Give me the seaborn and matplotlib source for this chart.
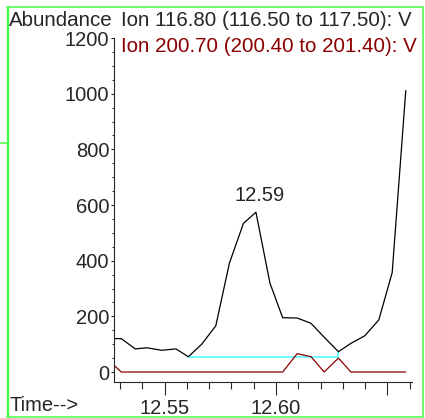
import matplotlib
matplotlib.use('Agg')
import matplotlib.pyplot as plt
from matplotlib.lines import Line2D
from matplotlib.ticker import FixedLocator, MultipleLocator
import numpy as np
import pandas as pd
import seaborn as sns

# scan times (min) and abundances
times = [12.5245, 12.5306, 12.5369, 12.5421, 12.5488, 12.5551, 12.5607, 12.5667,
         12.5730, 12.5791, 12.5854, 12.5910, 12.5973, 12.6030, 12.6095, 12.6157,
         12.6216, 12.6280, 12.6336, 12.6398, 12.6461, 12.6521, 12.6582]
ion117 = [120, 120, 83, 87, 78, 83, 55, 100, 166, 391, 534, 574, 319, 195,
          194, 175, 125, 73, 103, 130, 187, 357, 1011]
ion201 = [45, 0, 0, 0, 0, 0, 0, 0, 0, 0, 0, 0, 0, 0,
          66, 55, 0, 50, 0, 0, 0, 0, 0]

# integration baseline under the peak
base_t = [12.5607, 12.6280, 12.6280]
base_v = [55, 55, 73]

label117 = 'Ion 116.80 (116.50 to 117.50): V'
label201 = 'Ion 200.70 (200.40 to 201.40): V'
xticks_major = [12.55, 12.60, 12.65]
xtick_labels = ['12.55', '12.60', '']

data = pd.DataFrame({'time': times, 'ion117': ion117, 'ion201': ion201})
base = pd.DataFrame({'time': base_t, 'value': base_v})

W, H = 425, 418
sns.set_style('ticks')
plt.rcParams['font.family'] = ['Liberation Sans', 'DejaVu Sans']

fig = plt.figure(figsize=(W / 100, H / 100), dpi=100)
ax = fig.add_axes([114 / W, 36 / H, (412 - 114) / W, (382 - 38) / H])

red = '#8b0000'
sns.lineplot(x='time', y='value', data=base, ax=ax, color='#55ffff', linewidth=1.2,
             sort=False, estimator=None)
sns.lineplot(x='time', y='ion201', data=data, ax=ax, color=red, linewidth=0.9,
             sort=False, estimator=None)
sns.lineplot(x='time', y='ion117', data=data, ax=ax, color='black', linewidth=0.9,
             sort=False, estimator=None)

# peak label
ipk = int(np.argmax(ion117[:15]))
ax.annotate(f'{times[ipk]:.2f}', xy=(times[ipk], ion117[ipk]), xytext=(4, 7),
            textcoords='offset pixels', ha='center', va='bottom', fontsize=14.5)

ax.set_xlim(12.52735, 12.66099)
ax.set_ylim(-35.9, 1200)
ax.set_xlabel('')
ax.set_ylabel('')
sns.despine(ax=ax)
for s in ['left', 'bottom']:
    ax.spines[s].set_linewidth(0.8)

ax.xaxis.set_major_locator(FixedLocator(xticks_major))
ax.set_xticklabels(xtick_labels)
ax.xaxis.set_minor_locator(MultipleLocator(0.01))
ax.yaxis.set_major_locator(MultipleLocator(200))
ax.yaxis.set_minor_locator(MultipleLocator(50))
ax.tick_params(axis='x', which='major', length=9, width=0.8, pad=3, labelsize=14.5)
ax.tick_params(axis='x', which='minor', length=5, width=0.8)
ax.tick_params(axis='y', which='major', length=2.5, width=0.8, pad=1, labelsize=14.5)
ax.tick_params(axis='y', which='minor', length=1.2, width=0.8)


def fx(px):
    return px / W


def fy(py):
    return 1 - py / H


# header texts
fig.text(fx(9), fy(26.5), 'Abundance', fontsize=14.8, va='baseline')
fig.text(fx(121), fy(26.5), label117, fontsize=14.8, va='baseline')
fig.text(fx(121), fy(52), label201, fontsize=14.8, va='baseline', color=red)
fig.text(fx(9), fy(411), 'Time-->', fontsize=14.5, va='baseline')

# green frame
green = '#40ff40'
frame = [([7.5, 7.5], [7, 418], 2.2),
         ([7, 423], [7, 7], 1.5),
         ([422.5, 422.5], [7, 417], 1.5),
         ([7, 423], [416.5, 416.5], 1.5),
         ([0, 7], [143, 143], 1.5)]
for xs, ys, lw in frame:
    fig.add_artist(Line2D([fx(v) for v in xs], [fy(v) for v in ys], color=green,
                          linewidth=lw * 0.72, transform=fig.transFigure))

fig.savefig('out.png', dpi=100)
